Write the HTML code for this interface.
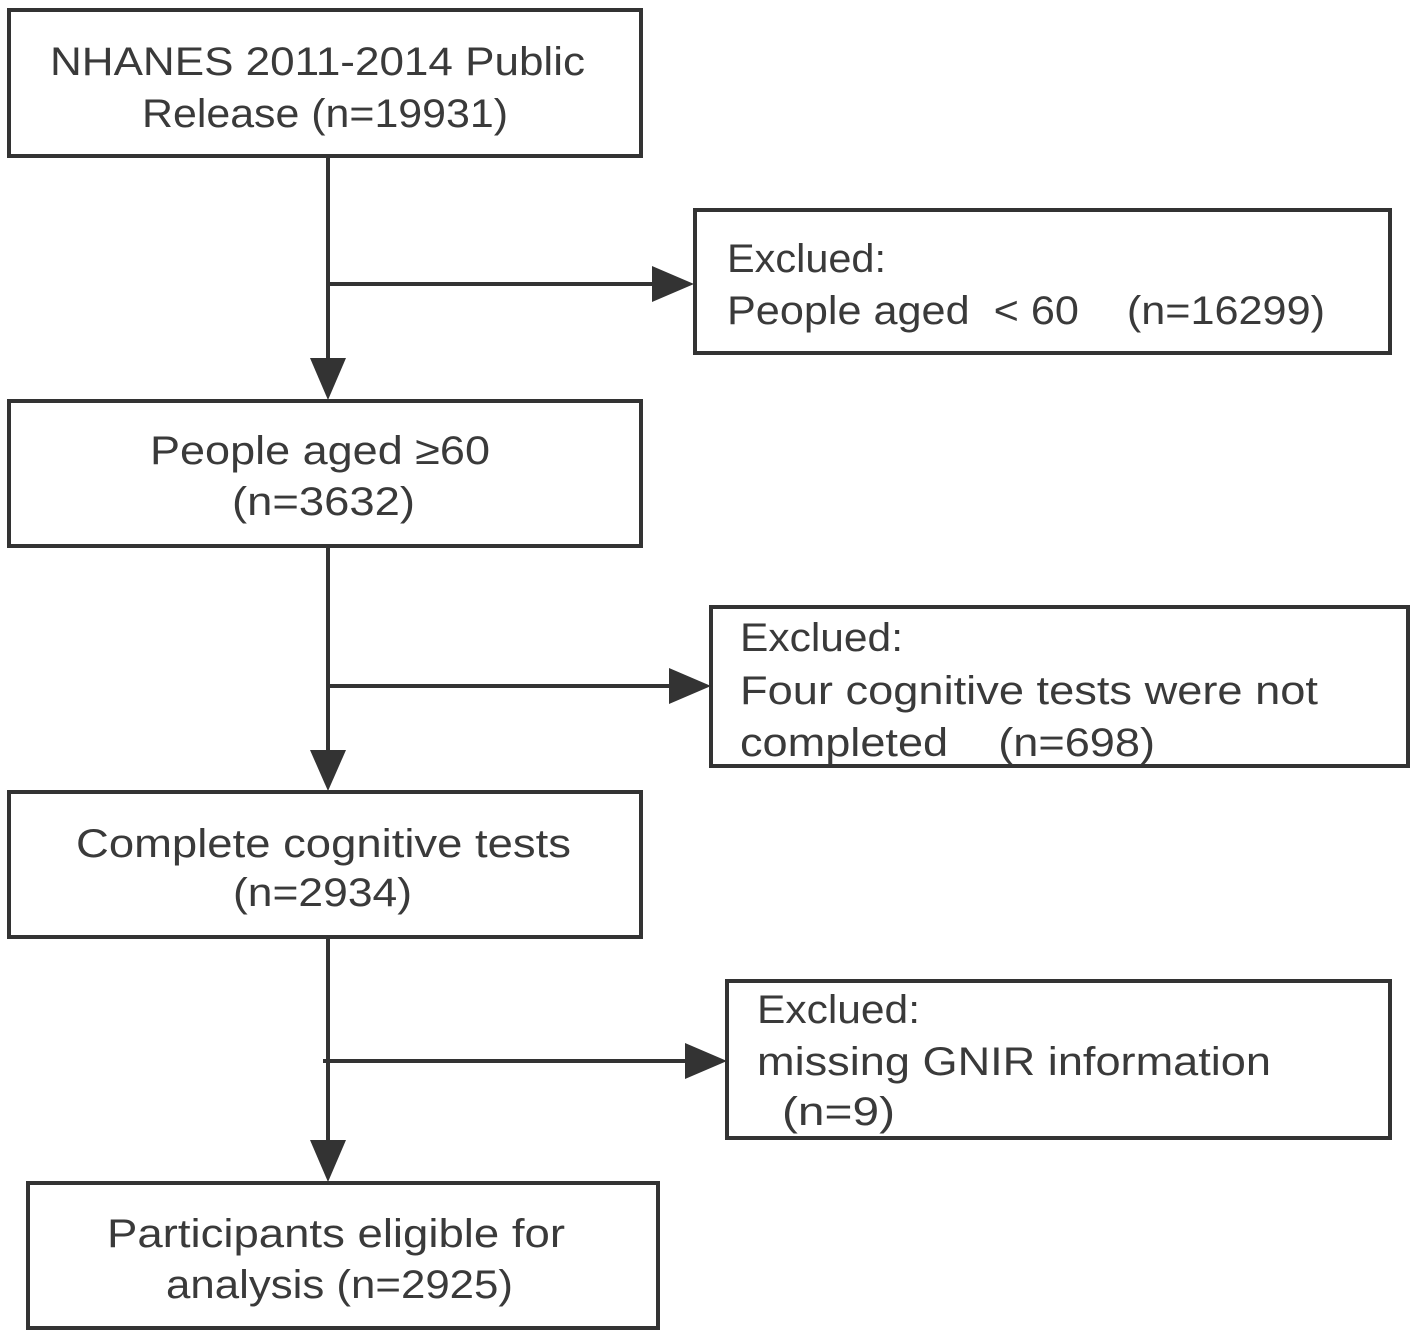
<!DOCTYPE html>
<html><head><meta charset="utf-8"><style>
html,body{margin:0;padding:0;background:#fff;}
svg{display:block;}
text{font-family:"Liberation Sans","DejaVu Sans",sans-serif;font-size:40px;fill:#3a3a3a;}
</style></head><body>
<svg width="1418" height="1339" viewBox="0 0 1418 1339" xmlns="http://www.w3.org/2000/svg">
<g fill="none" stroke="#333" stroke-width="4">
<rect x="9" y="10" width="632" height="146"/>
<rect x="695" y="210" width="695" height="143"/>
<rect x="9" y="401" width="632" height="145"/>
<rect x="711" y="607" width="697" height="159"/>
<rect x="9" y="792" width="632" height="145"/>
<rect x="727" y="981" width="663" height="157"/>
<rect x="28" y="1183" width="630" height="145"/>
<line x1="328" y1="156" x2="328" y2="360"/>
<line x1="328" y1="284" x2="655" y2="284"/>
<line x1="328" y1="546" x2="328" y2="752"/>
<line x1="328" y1="686" x2="672" y2="686"/>
<line x1="328" y1="937" x2="328" y2="1142"/>
<line x1="323" y1="1061" x2="688" y2="1061"/>
</g>
<g fill="#333">
<polygon points="310,358 346,358 328,400"/>
<polygon points="652,266 652,302 694,284"/>
<polygon points="310,750 346,750 328,791"/>
<polygon points="669,668 669,704 711,686"/>
<polygon points="310,1140 346,1140 328,1182"/>
<polygon points="685,1043 685,1079 727,1061"/>
</g>
<g lengthAdjust="spacingAndGlyphs">
<text x="50" y="75" textLength="535" lengthAdjust="spacingAndGlyphs">NHANES 2011-2014 Public</text>
<text x="142" y="127" textLength="366" lengthAdjust="spacingAndGlyphs">Release (n=19931)</text>
<text x="150" y="464" textLength="340" lengthAdjust="spacingAndGlyphs">People aged ≥60</text>
<text x="232" y="515" textLength="183" lengthAdjust="spacingAndGlyphs">(n=3632)</text>
<text x="76" y="857" textLength="495" lengthAdjust="spacingAndGlyphs">Complete cognitive tests</text>
<text x="233" y="906" textLength="179" lengthAdjust="spacingAndGlyphs">(n=2934)</text>
<text x="107" y="1247" textLength="458" lengthAdjust="spacingAndGlyphs">Participants eligible for</text>
<text x="166" y="1298" textLength="347" lengthAdjust="spacingAndGlyphs">analysis (n=2925)</text>
<text x="727" y="272" textLength="159" lengthAdjust="spacingAndGlyphs">Exclued:</text>
<text x="727" y="324" textLength="598" lengthAdjust="spacingAndGlyphs" xml:space="preserve">People aged  &lt; 60    (n=16299)</text>
<text x="740" y="651" textLength="163" lengthAdjust="spacingAndGlyphs">Exclued:</text>
<text x="740" y="704" textLength="578" lengthAdjust="spacingAndGlyphs">Four cognitive tests were not</text>
<text x="740" y="756" textLength="415" lengthAdjust="spacingAndGlyphs" xml:space="preserve">completed    (n=698)</text>
<text x="757" y="1023" textLength="163" lengthAdjust="spacingAndGlyphs">Exclued:</text>
<text x="757" y="1075" textLength="514" lengthAdjust="spacingAndGlyphs">missing GNIR information</text>
<text x="782" y="1125" textLength="113" lengthAdjust="spacingAndGlyphs">(n=9)</text>
</g>
</svg>
</body></html>
